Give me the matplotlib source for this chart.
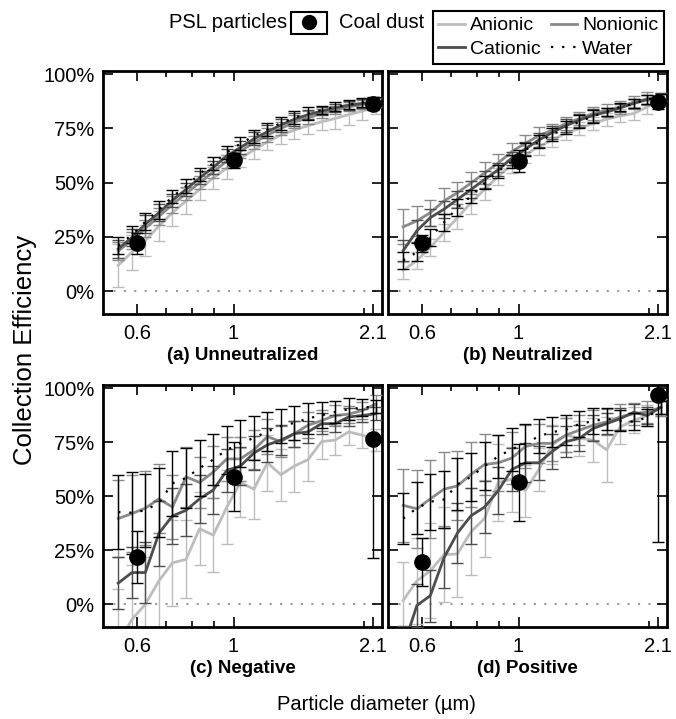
import matplotlib
matplotlib.use("Agg")
import matplotlib.pyplot as plt
from matplotlib.lines import Line2D
from matplotlib.ticker import FixedLocator, NullFormatter, FixedFormatter

plt.rcParams['font.family'] = ['Liberation Sans', 'DejaVu Sans']

# ---------------- data ----------------
diam = [0.542, 0.583, 0.626, 0.673, 0.723, 0.777, 0.835, 0.898, 0.965, 1.037,
        1.114, 1.197, 1.286, 1.382, 1.486, 1.596, 1.715, 1.843, 1.981, 2.129]
coal_diam = [0.6, 1.0, 2.1]

# (a) Unneutralized
a_anionic = [11.9, 18, 23.3, 30.1, 36.2, 41.6, 46.9, 52.2, 56.8, 61.3, 65.1, 68.9, 72, 74.3, 76.3, 78.1, 79.6, 81.4, 83, 84.9]
a_anionic_err = [10, 8, 7, 7, 6, 6, 5, 5, 5, 4, 4, 4, 4, 4, 4, 4, 5, 5, 4, 3]
a_cationic = [19.5, 24.8, 30.9, 36.2, 41.9, 46.9, 52.2, 57.1, 62.4, 66.2, 70.2, 73.5, 76.6, 79.3, 81.4, 83, 84.5, 85.7, 86.5, 87.2]
a_cationic_err = [4, 4, 4, 4, 3, 3, 3, 3, 3, 3, 3, 3, 3, 3, 2, 2, 2, 2, 2, 2]
a_nonionic = [18.5, 23.5, 29, 34.5, 40, 45, 50, 55, 60, 64.5, 68.5, 72, 75, 78, 80, 82, 83.5, 85, 86, 87]
a_nonionic_err = [4, 4, 4, 4, 4, 3, 3, 3, 3, 3, 3, 3, 3, 3, 3, 2, 2, 2, 2, 2]
a_water = [21, 26, 32, 37.5, 43.5, 48.5, 54, 59, 64, 68, 71.5, 74.5, 77.5, 80, 82, 83.5, 85, 86, 87, 87.5]
a_water_err = [4, 4, 4, 4, 3, 3, 3, 3, 3, 3, 3, 3, 3, 3, 3, 2, 2, 2, 2, 2]
a_coal = [22, 60.4, 86.4]
a_coal_err = [5, 3.5, 3]

# (b) Neutralized
b_anionic = [9.6, 14.2, 20.2, 27.1, 33.9, 40.8, 46.9, 53, 58.3, 62.9, 66.7, 69.7, 72.8, 75, 77.3, 79.3, 80.8, 81.9, 84.9, 88.4]
b_anionic_err = [4, 4, 4, 4, 5, 5, 5, 4, 4, 4, 4, 3, 3, 3, 3, 3, 3, 3, 3, 2]
b_cationic = [18.7, 27.9, 33.9, 37.8, 42.3, 46.9, 51.5, 56, 61.3, 65.6, 69.7, 73.2, 76.3, 78.9, 81.1, 82.6, 84.5, 86.5, 88.4, 89.5]
b_cationic_err = [5, 5, 4, 4, 4, 4, 4, 3, 3, 3, 3, 3, 3, 3, 3, 2, 2, 2, 2, 2]
b_nonionic = [29.7, 32.4, 36.2, 41.6, 45.4, 49.9, 54.5, 59.1, 64.4, 68.2, 71.7, 74.3, 77.3, 79.6, 81.9, 83.4, 84.9, 87.2, 88.7, 89.5]
b_nonionic_err = [8, 7, 6, 6, 5, 5, 5, 4, 4, 4, 4, 3, 3, 3, 3, 3, 3, 3, 3, 2]
b_water = [14.2, 18, 24.8, 31.7, 38.5, 43.8, 49.9, 55.3, 59.8, 65.1, 68.9, 72.3, 75.3, 78.1, 80.7, 82.6, 84.9, 86.5, 88.4, 89]
b_water_err = [4, 4, 4, 4, 4, 3, 3, 3, 3, 3, 3, 3, 3, 3, 3, 2, 2, 2, 2, 2]
b_coal = [22, 60, 87]
b_coal_err = [4, 5, 3]

# (c) Negative
c_anionic = [-18, -7, 0, 10.9, 19.2, 20.8, 35, 32, 45, 56.4, 53.3, 65.5, 60, 64, 67, 75.3, 76, 79.8, 78.3, 76]
c_anionic_err = [25, 25, 22, 22, 20, 18, 17, 17, 17, 16, 14, 13, 12, 12, 10, 8, 7, 6, 6, 5]
c_cationic = [9.8, 14.7, 14.7, 32.9, 40.9, 43.5, 48.8, 52.9, 62, 64, 70, 73.8, 76, 79, 79.8, 83.6, 83.6, 86.7, 87.4, 88.2]
c_cationic_err = [12, 12, 14, 15, 13, 12, 11, 11, 10, 9, 8, 8, 7, 6, 5, 5, 4, 4, 3, 3]
c_nonionic = [39.7, 42, 44.5, 48.8, 45, 59, 56.4, 61.2, 67.3, 67.3, 71.5, 77.6, 75.3, 79, 82.9, 85, 87.4, 88, 89.7, 92.7]
c_nonionic_err = [18, 18, 17, 16, 15, 14, 12, 12, 10, 10, 9, 8, 7, 6, 6, 5, 5, 4, 4, 4]
c_water = [42.7, 42.4, 43.5, 47, 56, 58.5, 63, 67, 71.5, 74.5, 77, 80, 82.5, 84, 86, 87.5, 89, 90.3, 91, 91.5]
c_water_err = [17, 19, 17, 16, 15, 14, 13, 12, 11, 11, 10, 9, 8, 8, 7, 6, 5, 5, 4, 3]
c_coal = [22, 59, 76.5]
c_coal_err = [12, 16, 55]

# (d) Positive
d_anionic = [1.8, 10.9, 15.5, 23, 23.3, 33.6, 39.7, 56.4, 57.9, 52.6, 62.4, 73.8, 78.3, 76.8, 76, 71.5, 82.1, 85.1, 87.4, 91.2]
d_anionic_err = [18, 20, 22, 22, 20, 20, 18, 18, 15, 12, 10, 9, 8, 8, 10, 15, 8, 6, 5, 4]
d_cationic = [-20, -0.5, 4, 21.5, 33, 41, 45, 52.6, 62.4, 65.5, 65.5, 70.8, 75.3, 76.8, 81.4, 83.6, 85.9, 88.9, 87.4, 91.2]
d_cationic_err = [10, 10, 12, 14, 14, 13, 12, 11, 10, 9, 8, 8, 7, 6, 6, 5, 5, 4, 4, 3]
d_nonionic = [45.8, 44.2, 48.8, 53.3, 54.8, 60.2, 64.7, 65.5, 67.7, 73, 74.5, 74.5, 78.3, 80.6, 82.9, 84.4, 86.7, 88.2, 89, 91.2]
d_nonionic_err = [17, 18, 18, 17, 16, 15, 14, 13, 12, 10, 9, 8, 8, 7, 7, 6, 6, 5, 5, 4]
d_water = [39.7, 44.5, 47.5, 48.5, 55.5, 59, 64, 68.5, 71.8, 74.4, 77.8, 79.7, 80.8, 83.5, 84.8, 85.9, 85, 84.5, 86.5, 91]
d_water_err = [12, 12, 13, 13, 12, 11, 11, 10, 10, 9, 8, 7, 7, 6, 6, 5, 5, 4, 4, 3]
d_coal = [19.7, 56.4, 97]
d_coal_err = [11, 18, 68]

panel_titles = ['(a) Unneutralized', '(b) Neutralized', '(c) Negative', '(d) Positive']
series_names = ['Anionic', 'Cationic', 'Nonionic', 'Water']
x_major = [0.6, 1, 2.1]
x_major_labels = ['0.6', '1', '2.1']
x_minor = [0.7, 0.8, 0.9, 2.0]
y_ticks = [0, 25, 50, 75, 100]
y_tick_labels = ['0%', '25%', '50%', '75%', '100%']

panels = [
    (a_anionic, a_anionic_err, a_cationic, a_cationic_err, a_nonionic, a_nonionic_err, a_water, a_water_err, a_coal, a_coal_err),
    (b_anionic, b_anionic_err, b_cationic, b_cationic_err, b_nonionic, b_nonionic_err, b_water, b_water_err, b_coal, b_coal_err),
    (c_anionic, c_anionic_err, c_cationic, c_cationic_err, c_nonionic, c_nonionic_err, c_water, c_water_err, c_coal, c_coal_err),
    (d_anionic, d_anionic_err, d_cationic, d_cationic_err, d_nonionic, d_nonionic_err, d_water, d_water_err, d_coal, d_coal_err),
]

# ---------------- style ----------------
col_anionic = '#bdbdbd'
col_nonionic = '#8a8a8a'
col_cationic = '#4d4d4d'
col_water = '#000000'
FS = 14.5

W, H = 676, 719
fig = plt.figure(figsize=(W / 100, H / 100), dpi=100)

def fx(px):
    return px / W

def fy(py):
    return 1 - py / H

boxes = [
    (103, 382, 71, 314),
    (388, 667, 71, 314),
    (103, 382, 385, 627),
    (388, 667, 385, 627),
]

axes = []
for i, (l, r, t, b) in enumerate(boxes):
    ax = fig.add_axes([fx(l), fy(b), fx(r) - fx(l), fy(t) - fy(b)])
    axes.append(ax)
    an, ane, ca, cae, no, noe, wa, wae, co, coe = panels[i]
    ax.axhline(0, color='#9a9a9a', ls=(0, (1, 4)), lw=1.5, zorder=1)
    ek = dict(elinewidth=1, capsize=4.5, capthick=1)
    ax.errorbar(diam, an, yerr=ane, color=col_anionic, lw=2, zorder=2, **ek)
    ax.errorbar(diam, no, yerr=noe, color=col_nonionic, lw=2, zorder=3, **ek)
    ax.errorbar(diam, ca, yerr=cae, color=col_cationic, lw=2, zorder=4, **ek)
    ax.errorbar(diam, wa, yerr=wae, color=col_water, lw=1.6, ls=(0, (1, 4)), zorder=5, **ek)
    ax.errorbar(coal_diam, co, yerr=coe, color='black', fmt='o', ms=11,
                elinewidth=1, capsize=4.5, capthick=1, zorder=6)

    ax.set_xscale('log')
    ax.set_xlim(0.5, 2.2)
    ax.set_ylim(-10.5, 101.5)
    ax.xaxis.set_major_locator(FixedLocator(x_major))
    ax.xaxis.set_major_formatter(FixedFormatter(x_major_labels))
    ax.xaxis.set_minor_locator(FixedLocator(x_minor))
    ax.xaxis.set_minor_formatter(NullFormatter())
    ax.set_yticks(y_ticks)
    if i % 2 == 0:
        ax.set_yticklabels(y_tick_labels)
    else:
        ax.set_yticklabels([])
    ax.tick_params(which='major', direction='in', length=7, width=1.2,
                   top=True, right=True, labelsize=FS)
    ax.tick_params(which='minor', direction='in', length=4, width=1.2,
                   top=True, right=True)
    ax.tick_params(axis='x', which='major', pad=7)
    ax.tick_params(axis='y', which='major', pad=6)
    for s in ax.spines.values():
        s.set_linewidth(2)
    ax.set_xlabel(panel_titles[i], fontsize=13.5, fontweight='bold', labelpad=3)

fig.text(fx(376), fy(705), 'Particle diameter (µm)', ha='center', va='center', fontsize=FS)
fig.text(fx(25), fy(350), 'Collection Efficiency', ha='center', va='center',
         rotation=90, fontsize=18.5)

# legend for surfactant series
handles = [
    Line2D([], [], color=col_anionic, lw=2),
    Line2D([], [], color=col_cationic, lw=2),
    Line2D([], [], color=col_nonionic, lw=2),
    Line2D([], [], color=col_water, lw=1.6, ls=(0, (1, 4))),
]
leg = fig.legend(handles, series_names, ncol=2, loc='upper right',
                 bbox_to_anchor=(fx(664), fy(11)), fontsize=14, frameon=True,
                 fancybox=False, edgecolor='black', framealpha=1,
                 handlelength=1.35, handletextpad=0.25, columnspacing=0.55,
                 borderpad=0.3, labelspacing=0.3, borderaxespad=0)
leg.get_frame().set_linewidth(1.5)

# legend key for the coal dust markers
coal_handle = Line2D([], [], color='black', marker='o', ls='none', ms=10)
leg2 = fig.legend([coal_handle], [''], loc='center', bbox_to_anchor=(fx(309), fy(23)),
                  fontsize=11, frameon=True, fancybox=False, edgecolor='black',
                  framealpha=1, handlelength=1.8, handletextpad=0, borderpad=0.25,
                  borderaxespad=0)
leg2.get_frame().set_linewidth(1.5)
fig.text(fx(287), fy(23), 'PSL particles', ha='right', va='center', fontsize=FS)
fig.text(fx(339), fy(23), 'Coal dust', ha='left', va='center', fontsize=FS)

fig.savefig('out.png', dpi=100)
